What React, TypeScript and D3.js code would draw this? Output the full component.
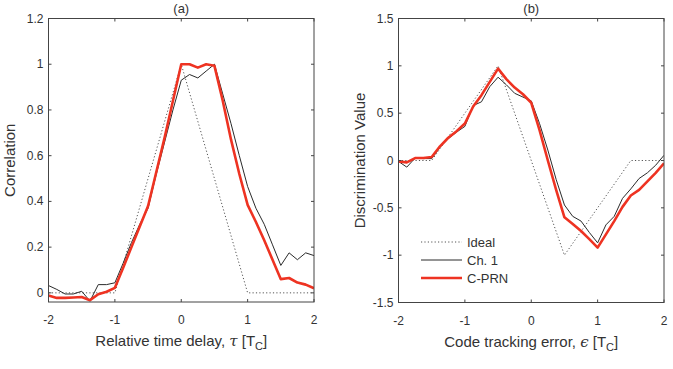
import React from "react";
import * as d3 from "d3";

const delays = [-2, -1.875, -1.75, -1.625, -1.5, -1.375, -1.25, -1.125, -1, -0.875, -0.75, -0.625, -0.5, -0.375, -0.25, -0.125, 0, 0.125, 0.25, 0.375, 0.5, 0.625, 0.75, 0.875, 1, 1.125, 1.25, 1.375, 1.5, 1.625, 1.75, 1.875, 2];

const corrCh1 = [0.032, 0.015, -0.005, -0.005, 0.007, -0.036, 0.036, 0.036, 0.044, 0.13, 0.22, 0.3, 0.37, 0.52, 0.66, 0.8, 0.93, 0.955, 0.94, 0.97, 1.0, 0.87, 0.74, 0.6, 0.465, 0.37, 0.3, 0.21, 0.12, 0.175, 0.145, 0.175, 0.163];
const corrCPRN = [-0.012, -0.022, -0.022, -0.02, -0.018, -0.032, -0.006, 0.005, 0.022, 0.11, 0.2, 0.29, 0.38, 0.53, 0.68, 0.84, 1.0, 1.0, 0.985, 1.0, 0.993, 0.84, 0.67, 0.52, 0.385, 0.31, 0.23, 0.145, 0.06, 0.065, 0.045, 0.036, 0.02];
const idealCorrX = [-2, -1, 0, 1, 2];
const idealCorrY = [0, 0, 1, 0, 0];

const discCh1 = [-0.01, -0.07, 0.026, 0.02, 0.02, 0.14, 0.23, 0.3, 0.36, 0.58, 0.62, 0.78, 0.88, 0.8, 0.71, 0.67, 0.63, 0.39, 0.11, -0.2, -0.47, -0.59, -0.64, -0.76, -0.87, -0.68, -0.59, -0.4, -0.3, -0.19, -0.13, -0.05, 0.055];
const discCPRN = [-0.01, -0.02, 0.026, 0.026, 0.037, 0.15, 0.24, 0.31, 0.39, 0.57, 0.69, 0.83, 0.97, 0.86, 0.77, 0.7, 0.61, 0.32, 0.0, -0.31, -0.6, -0.67, -0.745, -0.83, -0.92, -0.78, -0.64, -0.49, -0.37, -0.31, -0.22, -0.13, -0.03];
const idealDiscX = [-2, -1.5, -0.5, 0.5, 1.5, 2];
const idealDiscY = [0, 0, 1, -1, 0, 0];

const xTicks = [-2, -1, 0, 1, 2];
const corrTicks = [0, 0.2, 0.4, 0.6, 0.8, 1, 1.2];
const corrTickLabels = ["0", "0.2", "0.4", "0.6", "0.8", "1", "1.2"];
const discTicks = [-1.5, -1, -0.5, 0, 0.5, 1, 1.5];
const discTickLabels = ["-1.5", "-1", "-0.5", "0", "0.5", "1", "1.5"];
const legendLabels = ["Ideal", "Ch. 1", "C-PRN"];

const RED = "#ee3322";
const BLACK = "#2a2a2a";
const AXIS = "#444";
const TEXT = "#333";
const FONT = "'Liberation Sans', Arial, sans-serif";

type PanelProps = {
  id: string;
  x0: number; x1: number; y0: number; y1: number;
  yDomain: [number, number];
  yTicks: number[]; yTickLabels: string[];
  ch1: number[]; cprn: number[]; idealX: number[]; idealY: number[];
  title: string; yLabel: string; xLabelMain: string; xSymbol: string;
  legend?: boolean;
};

function Panel(p: PanelProps) {
  const x = d3.scaleLinear().domain([-2, 2]).range([p.x0, p.x1]);
  const y = d3.scaleLinear().domain(p.yDomain).range([p.y1, p.y0]);
  const line = d3.line<[number, number]>().x(d => x(d[0])).y(d => y(d[1]));
  const ch1Pts = delays.map((t, i) => [t, p.ch1[i]] as [number, number]);
  const cprnPts = delays.map((t, i) => [t, p.cprn[i]] as [number, number]);
  const idealPts = p.idealX.map((t, i) => [t, p.idealY[i]] as [number, number]);
  const tl = 3;
  const cx = (p.x0 + p.x1) / 2;
  const cy = (p.y0 + p.y1) / 2;
  return (
    <g>
      <defs>
        <clipPath id={p.id}>
          <rect x={p.x0} y={p.y0} width={p.x1 - p.x0} height={p.y1 - p.y0} />
        </clipPath>
      </defs>
      <g clipPath={`url(#${p.id})`} fill="none">
        <path d={line(idealPts) || ""} stroke="#555" strokeWidth={1} strokeDasharray="1.2,2.2" />
        <path d={line(ch1Pts) || ""} stroke={BLACK} strokeWidth={1} strokeLinejoin="round" />
        <path d={line(cprnPts) || ""} stroke={RED} strokeWidth={2.6} strokeLinejoin="round" />
      </g>
      <rect x={p.x0} y={p.y0} width={p.x1 - p.x0} height={p.y1 - p.y0} fill="none" stroke={AXIS} strokeWidth={1} />
      {xTicks.map(t => (
        <g key={"xt" + t}>
          <line x1={x(t)} x2={x(t)} y1={p.y1} y2={p.y1 - tl} stroke={AXIS} />
          <line x1={x(t)} x2={x(t)} y1={p.y0} y2={p.y0 + tl} stroke={AXIS} />
          <text x={x(t)} y={p.y1 + 22} textAnchor="middle" fontSize={12} fill={TEXT} fontFamily={FONT}>{t}</text>
        </g>
      ))}
      {p.yTicks.map((t, i) => (
        <g key={"yt" + t}>
          <line x1={p.x0} x2={p.x0 + tl} y1={y(t)} y2={y(t)} stroke={AXIS} />
          <line x1={p.x1} x2={p.x1 - tl} y1={y(t)} y2={y(t)} stroke={AXIS} />
          <text x={p.x0 - 5} y={y(t) + 4} textAnchor="end" fontSize={12} fill={TEXT} fontFamily={FONT}>{p.yTickLabels[i]}</text>
        </g>
      ))}
      <text x={cx} y={p.y0 - 6} textAnchor="middle" fontSize={13} fill={TEXT} fontFamily={FONT}>{p.title}</text>
      <text transform={`translate(${p.x0 - 34},${cy}) rotate(-90)`} textAnchor="middle" fontSize={15} fill={TEXT} fontFamily={FONT}>{p.yLabel}</text>
      <text x={cx} y={p.y1 + 44} textAnchor="middle" fontSize={15} fill={TEXT} fontFamily={FONT}>
        {p.xLabelMain}
        <tspan fontFamily="'DejaVu Serif', serif" fontStyle="italic">{p.xSymbol}</tspan>
        {" [T"}
        <tspan fontSize={11} dy={4}>C</tspan>
        <tspan dy={-4}>]</tspan>
      </text>
      {p.legend && (
        <g fontFamily={FONT} fontSize={13} fill={TEXT}>
          {legendLabels.map((lab, i) => {
            const ly = 242 + i * 18;
            const stroke = i === 0 ? "#555" : i === 1 ? BLACK : RED;
            const sw = i === 2 ? 2.6 : 1;
            return (
              <g key={lab}>
                <line x1={421} x2={462} y1={ly} y2={ly} stroke={stroke} strokeWidth={sw} strokeDasharray={i === 0 ? "1.2,2.2" : undefined} />
                <text x={467} y={ly + 4.5}>{lab}</text>
              </g>
            );
          })}
        </g>
      )}
    </g>
  );
}

export default function App() {
  return (
    <svg width={673} height={369} style={{ position: "absolute", left: 0, top: 0, background: "#fff" }}>
      <rect width={673} height={369} fill="#fff" />
      <Panel id="clipA" x0={48.5} x1={314} y0={18.5} y1={302} yDomain={[-0.04, 1.2]}
        yTicks={corrTicks} yTickLabels={corrTickLabels}
        ch1={corrCh1} cprn={corrCPRN} idealX={idealCorrX} idealY={idealCorrY}
        title="(a)" yLabel="Correlation" xLabelMain="Relative time delay, " xSymbol="τ" />
      <Panel id="clipB" x0={398.5} x1={664} y0={18.5} y1={302.5} yDomain={[-1.5, 1.5]}
        yTicks={discTicks} yTickLabels={discTickLabels}
        ch1={discCh1} cprn={discCPRN} idealX={idealDiscX} idealY={idealDiscY}
        title="(b)" yLabel="Discrimination Value" xLabelMain="Code tracking error, " xSymbol="ϵ" legend />
    </svg>
  );
}
